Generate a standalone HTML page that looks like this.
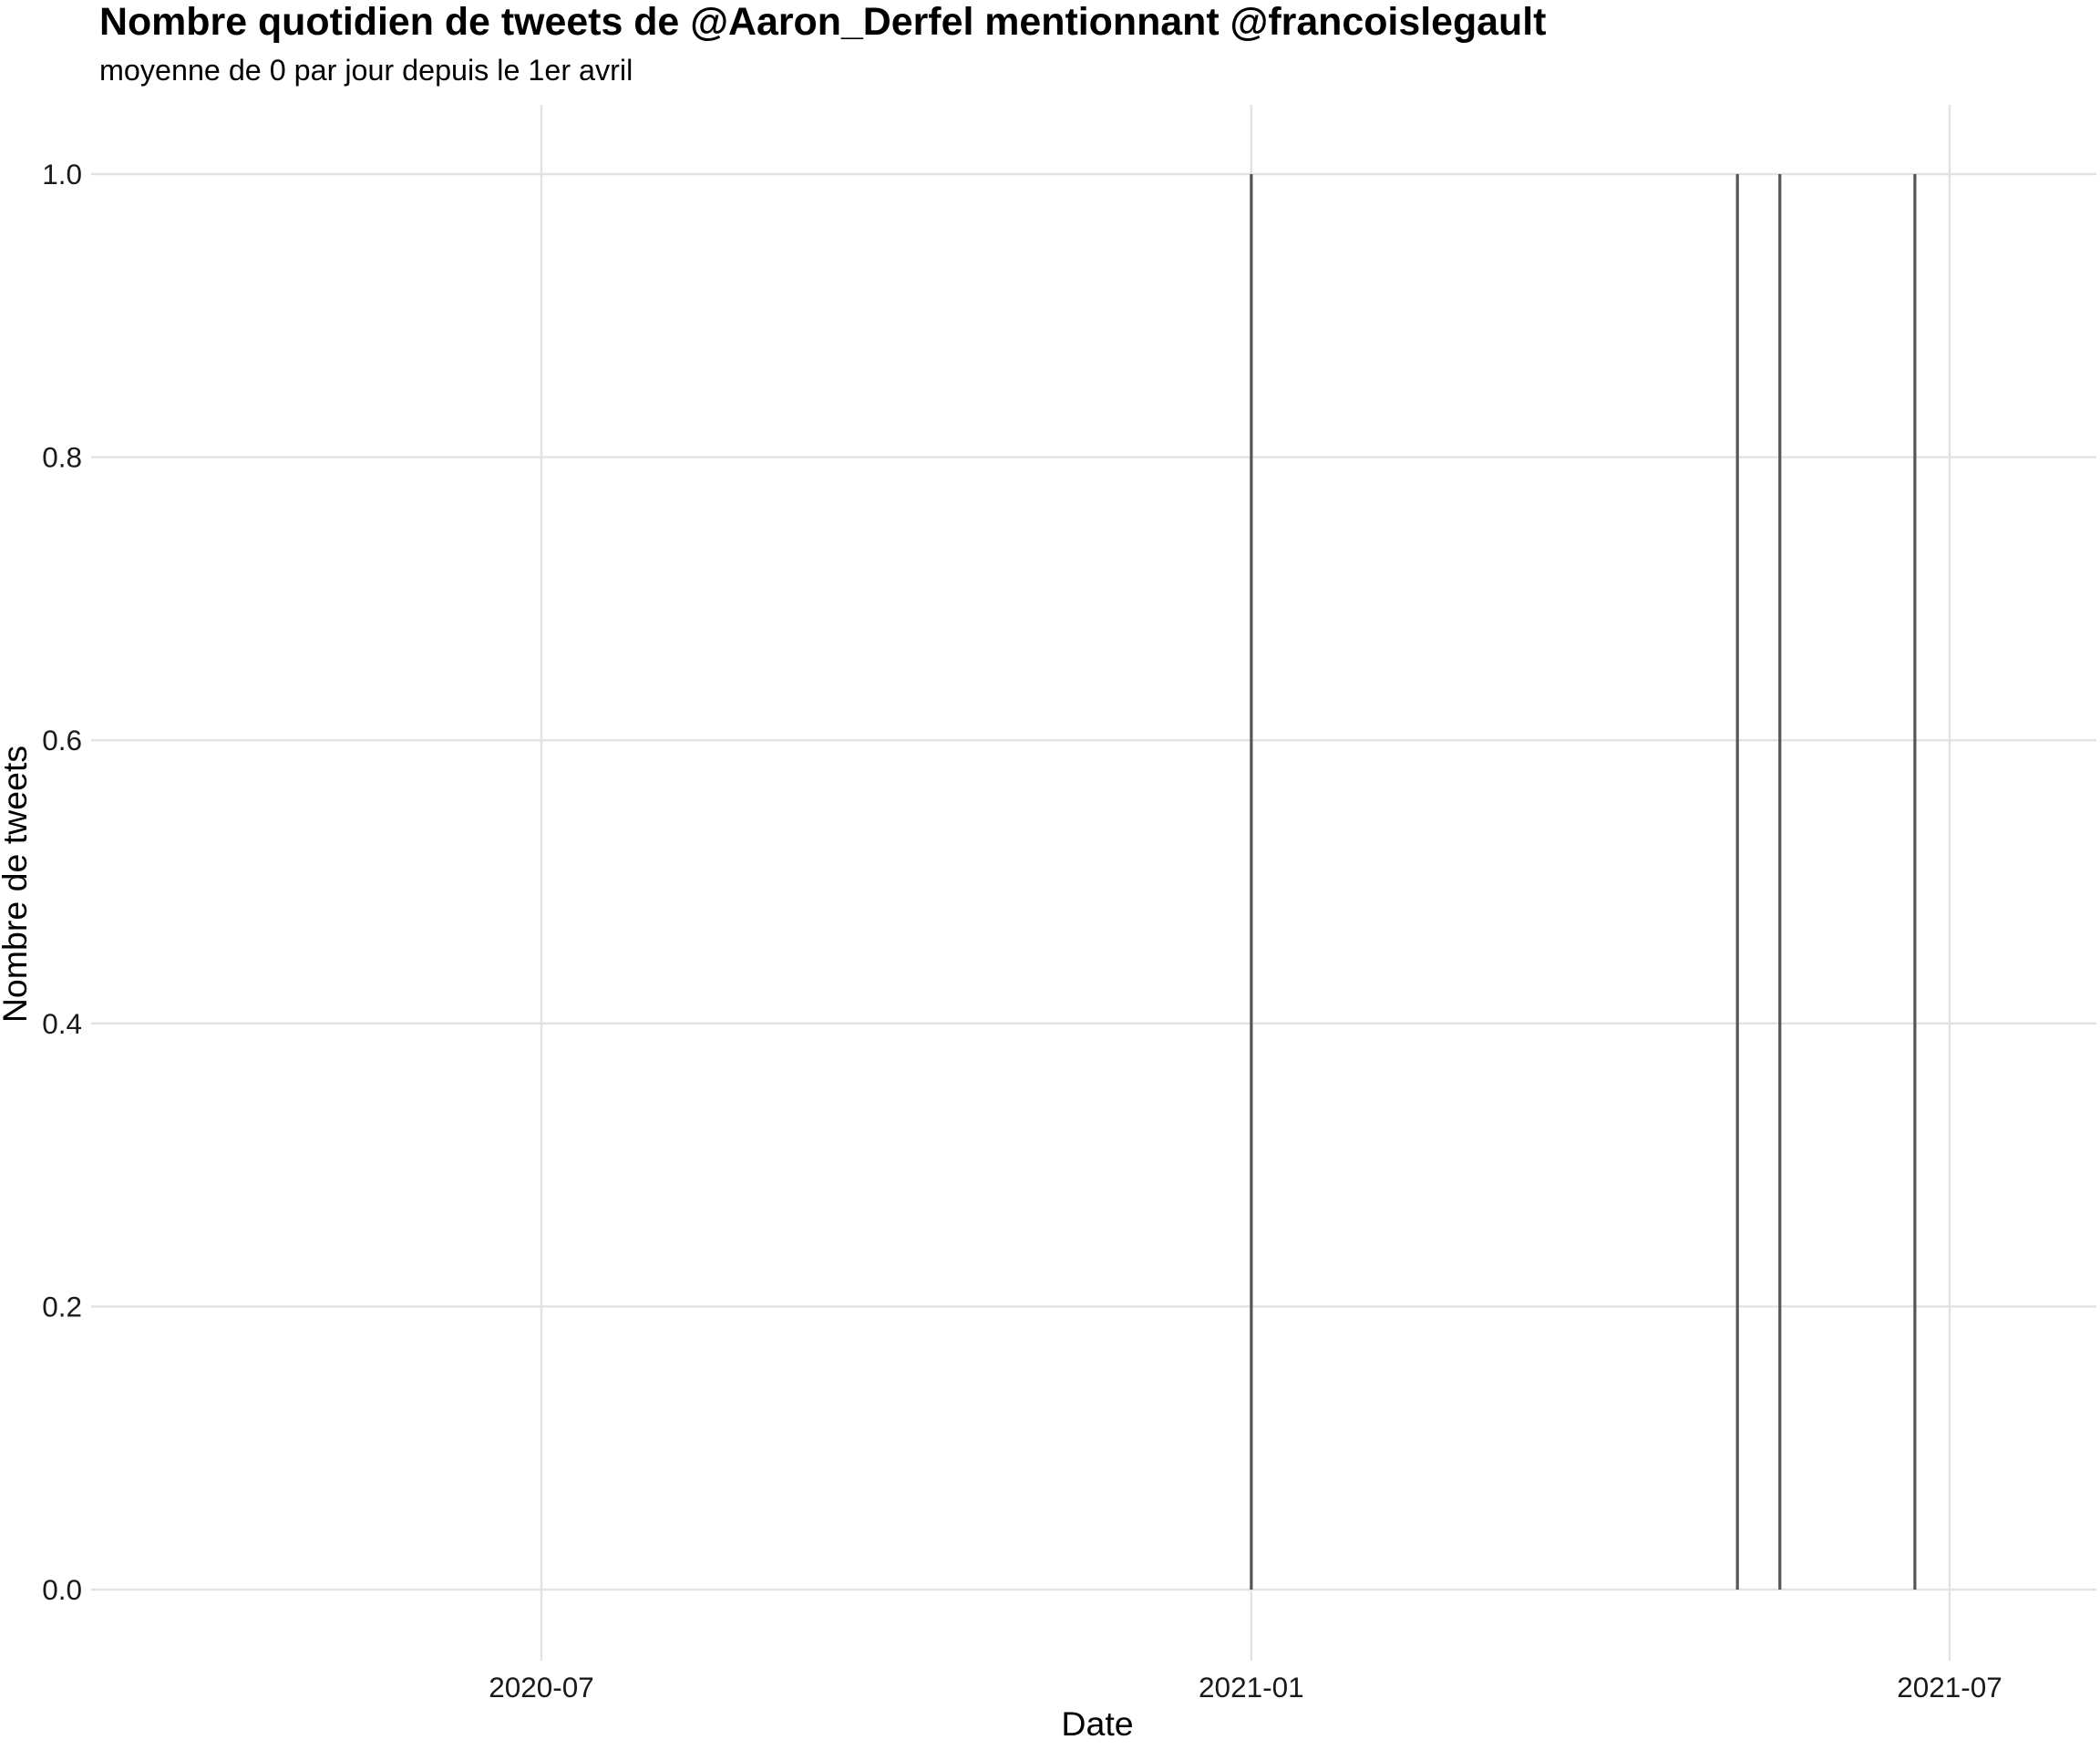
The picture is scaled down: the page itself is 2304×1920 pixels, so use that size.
<!DOCTYPE html>
<html><head><meta charset="utf-8">
<style>
html,body{margin:0;padding:0;background:#fff;}
svg{display:block;font-family:"Liberation Sans",sans-serif;}
</style></head>
<body>
<svg id="chart" width="2304" height="1920" viewBox="0 0 2304 1920" xmlns="http://www.w3.org/2000/svg">
<rect width="2304" height="1920" fill="#fff"/>
<text x="109" y="38" font-size="42.9" font-weight="bold" fill="#000">Nombre quotidien de tweets de @Aaron_Derfel mentionnant @francoislegault</text>
<text x="109" y="88" font-size="32.3" fill="#000">moyenne de 0 par jour depuis le 1er avril</text>
<g id="grid"></g>
<g id="bars"></g>
<g id="labels"></g>
<text x="1204" y="1904" font-size="37.5" text-anchor="middle" fill="#000">Date</text>
<text transform="translate(29,970) rotate(-90)" font-size="37.5" text-anchor="middle" fill="#000">Nombre de tweets</text>
</svg>
<script>
const dates = ["2021-01-01","2021-05-07","2021-05-18","2021-06-22"];
const counts = [1,1,1,1];
const xTicks = ["2020-07-01","2021-01-01","2021-07-01"];
const xTickLabels = ["2020-07","2021-01","2021-07"];
const yTicks = [0,0.2,0.4,0.6,0.8,1.0];
const yTickLabels = ["0.0","0.2","0.4","0.6","0.8","1.0"];

const NS="http://www.w3.org/2000/svg";
const t0=Date.parse("2020-07-01"), x0=594, t1=Date.parse("2021-07-01"), x1=2139;
function xs(d){return x0+(Date.parse(d)-t0)/(t1-t0)*(x1-x0);}
function ys(v){return 1744-v*(1744-191);}
function mk(tag,attrs,parent){const e=document.createElementNS(NS,tag);for(const k in attrs)e.setAttribute(k,attrs[k]);parent.appendChild(e);return e;}
const grid=document.getElementById('grid'),bars=document.getElementById('bars'),labels=document.getElementById('labels');
yTicks.forEach((v,i)=>{
  const l=mk('line',{x1:100,x2:2300,y1:ys(v),y2:ys(v),stroke:'#e2e2e2','stroke-width':2.4},grid);
  
  
  const t=mk('text',{x:90,y:ys(v)+11,'font-size':31.5,'text-anchor':'end',fill:'#1a1a1a'},labels);
  t.textContent=yTickLabels[i];
  
  
});
xTicks.forEach((d,i)=>{
  const x=xs(d);
  const l=mk('line',{x1:x,x2:x,y1:115,y2:1822,stroke:'#e2e2e2','stroke-width':2.4},grid);
  
  
  const t=mk('text',{x:x,y:1862,'font-size':31.5,'text-anchor':'middle',fill:'#1a1a1a'},labels);
  t.textContent=xTickLabels[i];
  
  
});
dates.forEach((d,i)=>{
  const x=xs(d);
  const l=mk('line',{x1:x,x2:x,y1:ys(0),y2:ys(counts[i]),stroke:'#555','stroke-width':3.2},bars);
  
  
});
</script>
</body></html>
